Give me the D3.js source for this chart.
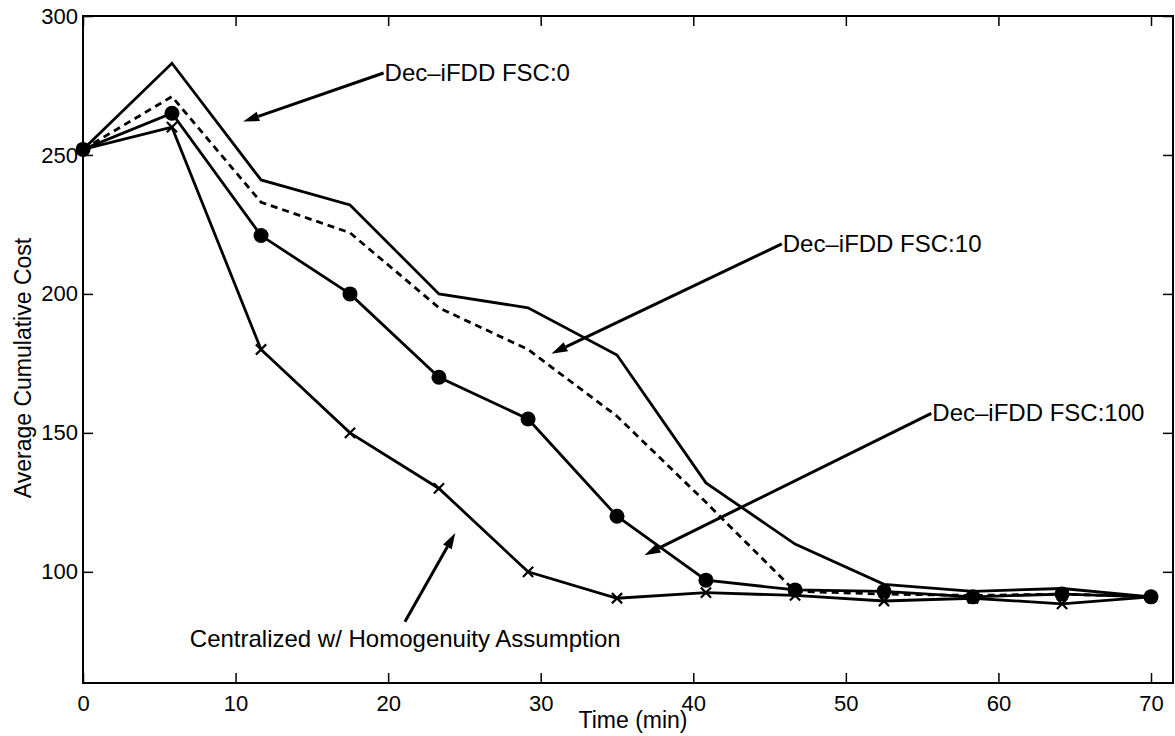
<!DOCTYPE html>
<html lang="en">
  <head>
    <meta charset="UTF-8" />
    <title>Average Cumulative Cost</title>
    <style>
      body {
        margin: 0;
        background: #fff;
        overflow: hidden;
      }
      svg text {
        font-family: "Liberation Sans", Arial, sans-serif;
        fill: #000;
      }
      .series {
        fill: none;
        stroke: #000;
        stroke-width: 2.8px;
        stroke-linejoin: miter;
      }
      .arrow {
        stroke: #000;
        stroke-width: 3px;
      }
    </style>
  </head>
  <body>
    <svg width="1175" height="736"></svg>

    <script src="https://d3js.org/d3.v7.min.js"></script>
    <script>
      // sample times (min)
      const times = [0, 5.83, 11.67, 17.5, 23.33, 29.17, 35, 40.83, 46.67, 52.5, 58.33, 64.17, 70];

      const fsc0 = [252, 283, 241, 232, 200, 195, 178, 132, 110, 95.5, 93, 94, 91];
      const fsc10 = [252, 271, 233, 222, 195, 180, 156, 125, 93, 92, 91.5, 92, 91];
      const fsc100 = [252, 265, 221, 200, 170, 155, 120, 97, 93.5, 93, 91, 92, 91];
      const central = [252, 260, 180, 150, 130, 100, 90.5, 92.5, 91.5, 89.5, 90.5, 88.5, 91];

      const xTicks = [0, 10, 20, 30, 40, 50, 60, 70];
      const yTicks = [100, 150, 200, 250, 300];

      // annotation text, where it starts, and the point the arrow hits
      const notes = [
        { text: "Dec\u2013iFDD FSC:0", at: [19.7, 279.5], tip: [10.5, 262] },
        { text: "Dec\u2013iFDD FSC:10", at: [45.8, 218], tip: [30.7, 178.5] },
        { text: "Dec\u2013iFDD FSC:100", at: [55.6, 157], tip: [36.8, 106] },
      ];
      const centralNote = { text: "Centralized w/ Homogenuity Assumption", at: [7, 73], tail: [21.1, 82], tip: [24.4, 114] };

      const svg = d3.select("svg");
      const mLeft = 83, mTop = 16, mRight = 1173, mBottom = 683;
      const noteSize = 24;

      const x = d3.scaleLinear().domain([0, 70]).range([mLeft, 1151]);
      const y = d3.scaleLinear().domain([60, 300]).range([mBottom, mTop]);

      // frame
      svg.append("rect")
        .attr("x", mLeft).attr("y", mTop)
        .attr("width", mRight - mLeft).attr("height", mBottom - mTop)
        .attr("fill", "none").attr("stroke", "#000").attr("stroke-width", 2);

      // ticks (inside, all four sides)
      const tickLen = 10;
      svg.append("g").attr("transform", `translate(0,${mBottom})`)
        .call(d3.axisBottom(x).tickValues(xTicks).tickSizeInner(-tickLen).tickSizeOuter(0).tickPadding(12));
      svg.append("g").attr("transform", `translate(0,${mTop})`)
        .call(d3.axisTop(x).tickValues(xTicks).tickSizeInner(-tickLen).tickSizeOuter(0).tickFormat(""));
      svg.append("g").attr("transform", `translate(${mLeft},0)`)
        .call(d3.axisLeft(y).tickValues(yTicks).tickSizeInner(-tickLen).tickSizeOuter(0).tickPadding(5));
      svg.append("g").attr("transform", `translate(${mRight},0)`)
        .call(d3.axisRight(y).tickValues(yTicks).tickSizeInner(-tickLen).tickSizeOuter(0).tickFormat(""));

      svg.selectAll(".domain").remove();
      svg.selectAll(".tick line").attr("stroke", "#000").attr("stroke-width", 1.5);
      svg.selectAll(".tick text").attr("font-size", 22).attr("font-family", "Liberation Sans, Arial, sans-serif").attr("fill", "#000");

      // axis labels
      svg.append("text")
        .attr("x", 633).attr("y", 728)
        .attr("text-anchor", "middle")
        .attr("font-size", 23)
        .text("Time (min)");
      svg.append("text")
        .attr("transform", "translate(31,368) rotate(-90)")
        .attr("text-anchor", "middle")
        .attr("font-size", 23)
        .text("Average Cumulative Cost");

      // series
      const line = d3.line().x((d, i) => x(times[i])).y((d) => y(d));

      svg.append("path").datum(fsc0).attr("class", "series").attr("d", line);
      svg.append("path").datum(fsc10).attr("class", "series")
        .attr("stroke-dasharray", "7,5").attr("d", line);
      svg.append("path").datum(fsc100).attr("class", "series").attr("d", line);
      svg.append("path").datum(central).attr("class", "series").attr("d", line);

      svg.append("g").selectAll("circle")
        .data(fsc100)
        .join("circle")
        .attr("cx", (d, i) => x(times[i]))
        .attr("cy", (d) => y(d))
        .attr("r", 7.5)
        .attr("fill", "#000");

      const cross = d3.symbol().type(d3.symbolX).size(70);
      svg.append("g").selectAll("path")
        .data(central)
        .join("path")
        .attr("transform", (d, i) => `translate(${x(times[i])},${y(d)})`)
        .attr("d", cross)
        .attr("fill", "none")
        .attr("stroke", "#000")
        .attr("stroke-width", 2.2);

      // arrows
      function arrow(x1, y1, x2, y2) {
        const ang = Math.atan2(y2 - y1, x2 - x1);
        const len = 16, half = 5;
        const bx = x2 - len * Math.cos(ang), by = y2 - len * Math.sin(ang);
        svg.append("line").attr("class", "arrow")
          .attr("x1", x1).attr("y1", y1).attr("x2", bx).attr("y2", by);
        const px = -Math.sin(ang) * half, py = Math.cos(ang) * half;
        svg.append("path")
          .attr("d", `M${x2},${y2}L${bx + px},${by + py}L${bx - px},${by - py}Z`)
          .attr("fill", "#000");
      }

      notes.forEach((n) => {
        const tx = x(n.at[0]), ty = y(n.at[1]);
        arrow(tx, ty, x(n.tip[0]), y(n.tip[1]));
        svg.append("text")
          .attr("x", tx + 1).attr("y", ty + 8)
          .attr("font-size", noteSize)
          .text(n.text);
      });

      arrow(x(centralNote.tail[0]), y(centralNote.tail[1]), x(centralNote.tip[0]), y(centralNote.tip[1]));
      svg.append("text")
        .attr("x", x(centralNote.at[0])).attr("y", y(centralNote.at[1]))
        .attr("font-size", noteSize)
        .text(centralNote.text);
    </script>
  </body>
</html>
